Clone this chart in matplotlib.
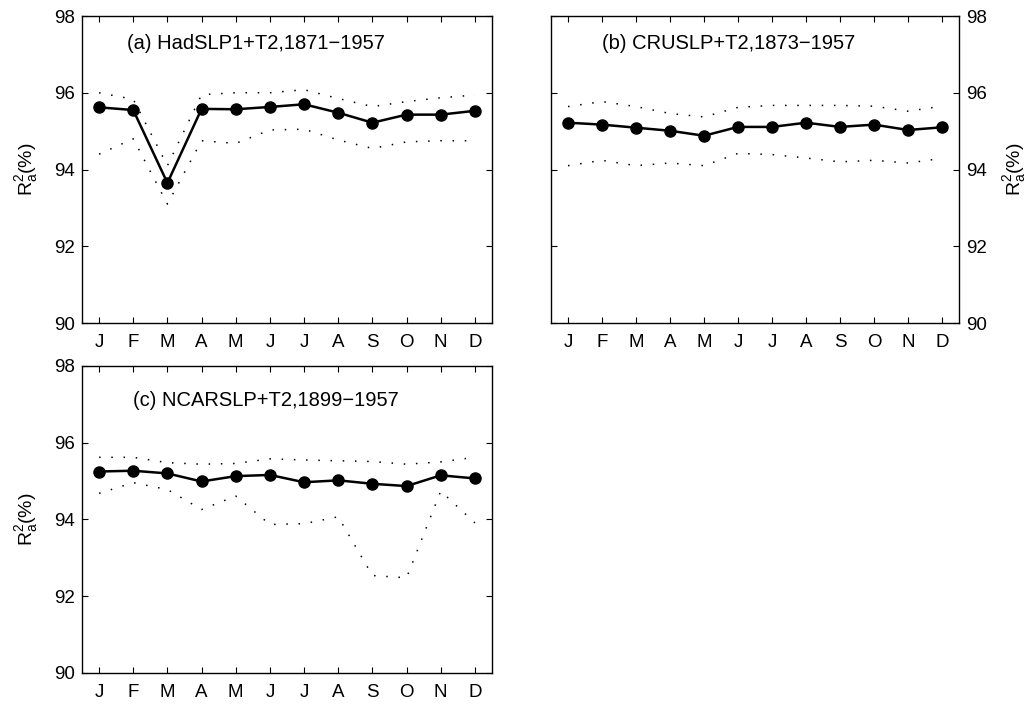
import matplotlib
matplotlib.use("Agg")
import matplotlib.pyplot as plt

plt.rcParams['font.family'] = ['Liberation Sans', 'DejaVu Sans']
plt.rcParams['mathtext.fontset'] = 'custom'
plt.rcParams['mathtext.rm'] = 'Liberation Sans'
plt.rcParams['mathtext.it'] = 'Liberation Sans'

months = ['J', 'F', 'M', 'A', 'M', 'J', 'J', 'A', 'S', 'O', 'N', 'D']

# (a) HadSLP1+T2
had_mean = [95.62, 95.55, 93.65, 95.58, 95.57, 95.63, 95.70, 95.48, 95.22, 95.43, 95.43, 95.53]
had_upper = [96.00, 95.83, 94.10, 95.95, 96.00, 96.00, 96.08, 95.85, 95.64, 95.77, 95.87, 95.94]
had_lower = [94.40, 94.80, 93.10, 94.75, 94.68, 95.03, 95.05, 94.77, 94.55, 94.72, 94.75, 94.75]

# (b) CRUSLP+T2
cru_mean = [95.22, 95.17, 95.09, 95.01, 94.88, 95.11, 95.11, 95.22, 95.11, 95.17, 95.03, 95.10]
cru_upper = [95.64, 95.77, 95.64, 95.46, 95.37, 95.62, 95.67, 95.67, 95.67, 95.65, 95.52, 95.65]
cru_lower = [94.10, 94.24, 94.10, 94.17, 94.10, 94.42, 94.39, 94.30, 94.20, 94.24, 94.17, 94.29]

# (c) NCARSLP+T2
ncar_mean = [95.25, 95.27, 95.20, 94.99, 95.13, 95.16, 94.97, 95.02, 94.93, 94.87, 95.15, 95.07]
ncar_upper = [95.62, 95.62, 95.48, 95.44, 95.46, 95.58, 95.55, 95.53, 95.51, 95.44, 95.50, 95.62]
ncar_lower = [94.68, 94.96, 94.78, 94.26, 94.61, 93.87, 93.89, 94.07, 92.54, 92.48, 94.74, 93.91]

titles = ['(a) HadSLP1+T2,1871\u22121957',
          '(b) CRUSLP+T2,1873\u22121957',
          '(c) NCARSLP+T2,1899\u22121957']

fig = plt.figure(figsize=(10.34, 7.05), dpi=100)
ax_a = fig.add_axes([0.0793, 0.5418, 0.3965, 0.4355])
ax_b = fig.add_axes([0.5329, 0.5418, 0.3946, 0.4355])
ax_c = fig.add_axes([0.0793, 0.0454, 0.3965, 0.4355])

panels = [
    (ax_a, had_mean, had_upper, had_lower, titles[0], 'left', (0.11, 0.912)),
    (ax_b, cru_mean, cru_upper, cru_lower, titles[1], 'right', (0.125, 0.912)),
    (ax_c, ncar_mean, ncar_upper, ncar_lower, titles[2], 'left', (0.124, 0.886)),
]

x = list(range(1, 13))
dots = (0, (1, 7))

for ax, mean, upper, lower, title, side, tpos in panels:
    ax.plot(x, upper, color='black', lw=1.1, linestyle=dots)
    ax.plot(x, lower, color='black', lw=1.1, linestyle=dots)
    ax.plot(x, mean, color='black', lw=1.8, marker='o', markersize=8)
    ax.set_xlim(0.5, 12.5)
    ax.set_ylim(90, 98)
    ax.set_xticks(x)
    ax.set_xticklabels(months)
    ax.set_yticks([90, 92, 94, 96, 98])
    ax.tick_params(direction='in', top=True, right=True, labelsize=13.5,
                   length=4, width=0.8)
    ax.tick_params(axis='x', pad=8)
    ax.tick_params(axis='y', pad=5)
    ax.text(tpos[0], tpos[1], title, transform=ax.transAxes, fontsize=14.5,
            ha='left', va='center')
    for s in ax.spines.values():
        s.set_linewidth(1.0)
    if side == 'right':
        ax.yaxis.tick_right()
        ax.yaxis.set_label_position('right')
        ax.tick_params(left=True, right=True, direction='in')
        ax.set_ylabel('R$_a^2$(%)', fontsize=14, rotation=90, labelpad=10)
    else:
        ax.set_ylabel('R$_a^2$(%)', fontsize=14, labelpad=10)

fig.savefig('out.png', dpi=100)
